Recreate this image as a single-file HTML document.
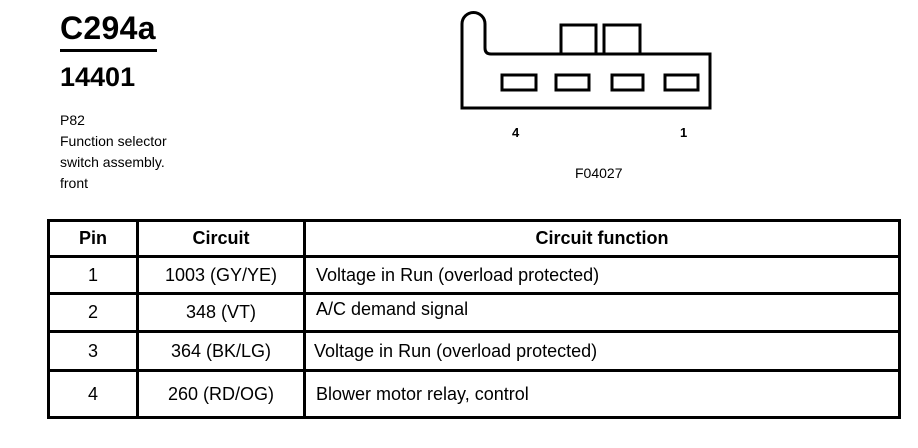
<!DOCTYPE html>
<html><head><style>
body{margin:0;width:918px;height:448px;background:#fff;position:relative;overflow:hidden;font-family:"Liberation Sans",Arial,sans-serif;color:#000}
.a{position:absolute;white-space:nowrap}
table{position:absolute;left:47px;top:219px;border-collapse:collapse;width:854px}
td{border:3px solid #000;padding:0;font-size:18px;text-align:center}
th{border:3px solid #000;font-size:18px;font-weight:bold;height:31px}
td.f{text-align:left;padding-left:10px}
</style></head><body>
<div class="a" style="left:60px;top:10px;font-size:32px;font-weight:bold;letter-spacing:0.3px">C294a</div>
<div class="a" style="left:60px;top:49px;width:97px;height:3px;background:#000"></div>
<div class="a" style="left:60px;top:62px;font-size:27px;font-weight:bold">14401</div>
<div class="a" style="left:60px;top:110px;font-size:14px;line-height:21px">P82<br>Function selector<br>switch assembly.<br>front</div>
<svg class="a" style="left:0;top:0" width="918" height="200">
<g fill="none" stroke="#000" stroke-width="3">
<path d="M462 108 V24 A11.5 11.5 0 0 1 485 24 V48 Q485 54 491 54 H710 V108 Z"/>
<rect x="561" y="25" width="35" height="29"/><rect x="604" y="25" width="36" height="29"/>
<rect x="502" y="75" width="34" height="15"/><rect x="556" y="75" width="33" height="15"/>
<rect x="612" y="75" width="31" height="15"/><rect x="665" y="75" width="33" height="15"/>
</g>
<text x="512" y="137" font-size="13" font-weight="bold" font-family="Liberation Sans">4</text>
<text x="680" y="137" font-size="13" font-weight="bold" font-family="Liberation Sans">1</text>
<text x="575" y="178" font-size="14" font-family="Liberation Sans">F04027</text>
</svg>
<table>
<tr><th style="width:84px">Pin</th><th style="width:162px">Circuit</th><th>Circuit function</th></tr>
<tr style="height:37px"><td>1</td><td>1003 (GY/YE)</td><td class="f">Voltage in Run (overload protected)</td></tr>
<tr style="height:38px"><td>2</td><td>348 (VT)</td><td class="f" style="vertical-align:top;padding-top:4px">A/C demand signal</td></tr>
<tr style="height:39px"><td>3</td><td>364 (BK/LG)</td><td class="f" style="padding-left:8px">Voltage in Run (overload protected)</td></tr>
<tr style="height:47px"><td>4</td><td>260 (RD/OG)</td><td class="f">Blower motor relay, control</td></tr>
</table>
</body></html>
